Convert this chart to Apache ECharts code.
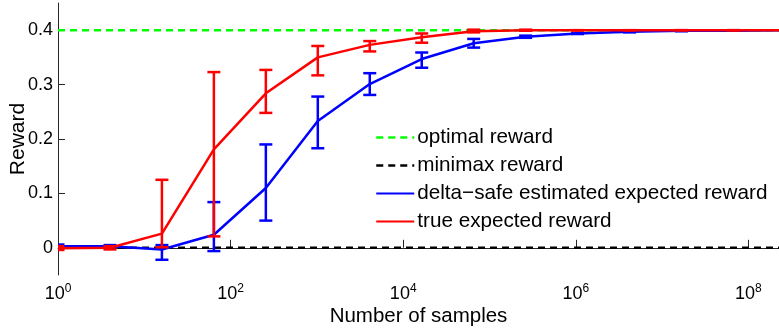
<!DOCTYPE html>
<html><head><meta charset="utf-8">
<script src="https://cdn.jsdelivr.net/npm/echarts@6/dist/echarts.min.js"></script>
<style>html,body{margin:0;padding:0;background:#fff}#c{width:779px;height:329px}</style>
</head><body><div id="c"></div>
<script>
const samples = [1,4,16,64,256,1024,4096,16384,65536,262144,1048576,4194304,16777216,67108864,268435456];
const blueMean = [0.003,0.003,-0.003,0.024,0.110,0.233,0.301,0.347,0.376,0.388,0.394,0.397,0.399,0.399,0.400];
const blueLow  = [0.000,0.001,-0.022,-0.006,0.050,0.183,0.281,0.331,0.368,0.386,0.393,0.396,0.398,0.399,0.400];
const blueHigh = [0.006,0.005,0.005,0.084,0.190,0.278,0.321,0.359,0.384,0.390,0.395,0.398,0.400,0.400,0.400];
const redMean  = [-0.001,0.000,0.026,0.181,0.284,0.350,0.373,0.387,0.398,0.400,0.400,0.400,0.400,0.400,0.400];
const redLow   = [-0.004,-0.003,0.001,0.021,0.248,0.317,0.361,0.377,0.396,0.399,0.400,0.400,0.400,0.400,0.400];
const redHigh  = [0.003,0.003,0.125,0.323,0.327,0.371,0.380,0.394,0.401,0.401,0.400,0.400,0.400,0.400,0.400];
const optimalReward = 0.4;
const minimaxReward = 0;
const xTicks = [1,100,1e4,1e6,1e8];
const yTicks = [0,0.1,0.2,0.3,0.4];
const xMin = 1, xMax = 2.26e8;

const FONT = '"Liberation Sans", Arial, Helvetica, sans-serif';
const LW = 2.5;
const chart = echarts.init(document.getElementById('c'), null, {renderer:'canvas'});

function errSeries(low, high, color, z){
  return {
    type:'custom', silent:true, z:z, clip:true,
    data: samples.map((s,i)=>[s, low[i], high[i]]),
    encode:{x:0, y:[1,2]},
    renderItem:function(params, api){
      const lo = api.coord([api.value(0), api.value(1)]);
      const hi = api.coord([api.value(0), api.value(2)]);
      const w = 6.5;
      const st = {stroke:color, lineWidth:LW};
      return {type:'group', children:[
        {type:'line', shape:{x1:lo[0],y1:lo[1],x2:hi[0],y2:hi[1]}, style:st},
        {type:'line', shape:{x1:lo[0]-w,y1:lo[1],x2:lo[0]+w,y2:lo[1]}, style:st},
        {type:'line', shape:{x1:hi[0]-w,y1:hi[1],x2:hi[0]+w,y2:hi[1]}, style:st}
      ]};
    }
  };
}

const legendNames = ['optimal reward','minimax reward','delta\u2212safe estimated expected reward','true expected reward'];

const option = {
  animation:false,
  textStyle:{fontFamily:FONT},
  grid:{left:58, right:0, top:3, bottom:54, containLabel:false, outerBoundsMode:'none'},
  legend:{
    orient:'vertical', left:375, top:127, padding:0, itemGap:7, itemWidth:38, itemHeight:20,
    itemStyle:{opacity:0},
    textStyle:{fontFamily:FONT, fontSize:20.7, lineHeight:20, color:'#000', padding:[0,0,0,-2]},
    data:[
      {name:legendNames[0], lineStyle:{type:[7,5], width:LW}},
      {name:legendNames[1], lineStyle:{type:[7,5], width:LW}},
      {name:legendNames[2]},
      {name:legendNames[3]}
    ]
  },
  xAxis:{
    type:'log', logBase:10, min:xMin, max:xMax,
    name:'Number of samples', nameLocation:'middle', nameGap:31, nameMoveOverlap:false,
    nameTextStyle:{fontFamily:FONT, fontSize:20.5, color:'#000'},
    axisLine:{show:true, lineStyle:{color:'#262626', width:1}},
    axisTick:{show:true, inside:true, length:8, customValues:xTicks, lineStyle:{color:'#262626'}},
    splitLine:{show:false}, minorTick:{show:false},
    axisLabel:{
      customValues:xTicks, margin:5, color:'#000', fontFamily:FONT, fontSize:18,
      formatter:function(v){ const e = Math.round(Math.log10(v)); return '{b|10}{s|'+e+'}'; },
      rich:{ b:{fontSize:18, fontFamily:FONT, color:'#000', padding:[5,0,0,0]}, s:{fontSize:12, fontFamily:FONT, color:'#000', padding:[0,0,5,0]} }
    }
  },
  yAxis:{
    type:'value', min:-0.05, max:0.45, interval:0.05,
    name:'Reward', nameLocation:'middle', nameGap:29, nameRotate:90, nameMoveOverlap:false,
    nameTextStyle:{fontFamily:FONT, fontSize:21, color:'#000'},
    axisLine:{show:true, lineStyle:{color:'#262626', width:1}},
    axisTick:{show:true, inside:true, length:7, customValues:yTicks, lineStyle:{color:'#262626'}},
    splitLine:{show:false},
    axisLabel:{customValues:yTicks, margin:5, color:'#000', fontFamily:FONT, fontSize:18,
      formatter:function(v){ return Math.abs(v)<1e-9 ? '0' : v.toFixed(1); }}
  },
  series:[
    {name:legendNames[0], type:'line', symbol:'none', z:2, silent:true,
     data:[[xMin,optimalReward],[xMax,optimalReward]],
     lineStyle:{color:'#00ff00', width:LW, type:[7,5]}, itemStyle:{color:'#00ff00'}},
    {name:legendNames[1], type:'line', symbol:'none', z:2, silent:true,
     data:[[xMin,minimaxReward],[xMax,minimaxReward]],
     lineStyle:{color:'#000000', width:LW, type:[7,5]}, itemStyle:{color:'#000000'}},
    {name:legendNames[2], type:'line', symbol:'none', z:3, silent:true,
     data:samples.map((s,i)=>[s,blueMean[i]]),
     lineStyle:{color:'#0000ff', width:LW}, itemStyle:{color:'#0000ff'}},
    errSeries(blueLow, blueHigh, '#0000ff', 3),
    {name:legendNames[3], type:'line', symbol:'none', z:4, silent:true,
     data:samples.map((s,i)=>[s,redMean[i]]),
     lineStyle:{color:'#ff0000', width:LW}, itemStyle:{color:'#ff0000'}},
    errSeries(redLow, redHigh, '#ff0000', 4)
  ]
};
chart.setOption(option);
</script></body></html>
